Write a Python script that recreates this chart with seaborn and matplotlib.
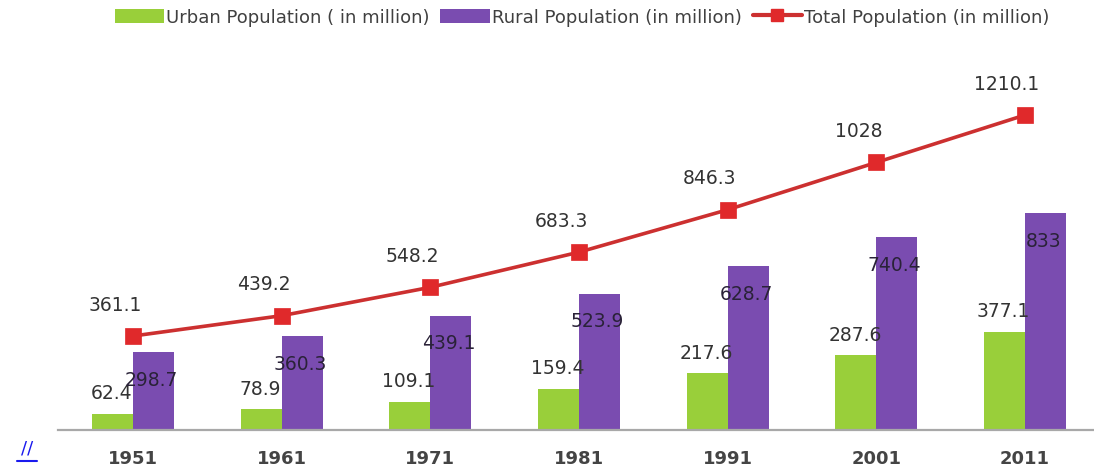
import matplotlib
matplotlib.use("Agg")
import matplotlib.pyplot as plt
import seaborn as sns
import pandas as pd
import numpy as np
from matplotlib.patches import Patch
from matplotlib.lines import Line2D

years = ["1951", "1961", "1971", "1981", "1991", "2001", "2011"]
urban = [62.4, 78.9, 109.1, 159.4, 217.6, 287.6, 377.1]
rural = [298.7, 360.3, 439.1, 523.9, 628.7, 740.4, 833]
total = [361.1, 439.2, 548.2, 683.3, 846.3, 1028, 1210.1]
total_labels = ["361.1", "439.2", "548.2", "683.3", "846.3", "1028", "1210.1"]
urban_labels = ["62.4", "78.9", "109.1", "159.4", "217.6", "287.6", "377.1"]
rural_labels = ["298.7", "360.3", "439.1", "523.9", "628.7", "740.4", "833"]
series_names = ["Urban Population ( in million)", "Rural Population (in million)",
                "Total Population (in million)"]

GREEN = "#99CF3A"
PURPLE = "#7A4CB0"
RED_LINE = "#CC3030"
RED_MARK = "#E0292B"
TXT = "#333333"

sns.set_theme(style="white")
plt.rcParams['font.family'] = ['DejaVu Sans']

fig = plt.figure(figsize=(10.94, 4.77), dpi=100)
ax = fig.add_axes([58 / 1094, 46 / 477, 1 - 58 / 1094, 364.4 / 477])

df = pd.DataFrame({
    "Year": years * 2,
    "Value": urban + rural,
    "Type": [series_names[0]] * len(years) + [series_names[1]] * len(years),
})
sns.barplot(data=df, x="Year", y="Value", hue="Type", order=years,
            hue_order=series_names[:2], palette=[GREEN, PURPLE],
            width=0.55, legend=False, ax=ax, saturation=1, edgecolor="none")

dft = pd.DataFrame({"Year": years, "Total": total})
sns.pointplot(data=dft, x="Year", y="Total", order=years, color=RED_LINE,
              markers="s", markersize=10, linewidth=2.6,
              markerfacecolor=RED_MARK, markeredgecolor=RED_MARK, ax=ax)

ax.set_xlim(-0.5045, 6.464)
ax.set_ylim(0, 1400)

# bar labels
urban_bars = ax.containers[0]
rural_bars = ax.containers[1]
for bar, lab in zip(urban_bars, urban_labels):
    cx = bar.get_x() + bar.get_width() / 2
    ax.annotate(lab, (cx, bar.get_height()), xytext=(-1, 21),
                textcoords="offset pixels", ha="center", va="center",
                fontsize=13.5, color=TXT)
for bar, lab in zip(rural_bars, rural_labels):
    cx = bar.get_x() + bar.get_width() / 2
    ax.annotate(lab, (cx, bar.get_height()), xytext=(-2, -27),
                textcoords="offset pixels", ha="center", va="center",
                fontsize=13.5, color="#2a2238")
for i, (v, lab) in enumerate(zip(total, total_labels)):
    ax.annotate(lab, (i, v), xytext=(-18, 32),
                textcoords="offset pixels", ha="center", va="center",
                fontsize=13.5, color=TXT)

sns.despine(ax=ax, left=True, top=True, right=True)
ax.spines["bottom"].set_color("#a8a8a8")
ax.spines["bottom"].set_linewidth(1.6)
ax.set_yticks([])
ax.set_xlabel("")
ax.set_ylabel("")
ax.tick_params(axis="x", length=0, pad=14)
for t in ax.get_xticklabels():
    t.set_fontsize(13)
    t.set_fontweight("semibold")
    t.set_color("#444444")

handles = [Patch(facecolor=GREEN, edgecolor="none"),
           Patch(facecolor=PURPLE, edgecolor="none"),
           Line2D([], [], color=RED_LINE, lw=3, marker="s", markersize=9,
                  markerfacecolor=RED_MARK, markeredgecolor=RED_MARK)]
leg = fig.legend(handles, series_names, loc="center", ncol=3,
                 bbox_to_anchor=(582 / 1094, 1 - 18 / 477), frameon=False,
                 fontsize=13, handlelength=2.75, handleheight=0.8,
                 handletextpad=0.1, columnspacing=0.6, borderaxespad=0)
for t in leg.get_texts():
    t.set_color("#404040")

fig.text(27 / 1094, 1 - 449 / 477, "//", color="#1a1aee", fontsize=13,
         ha="center", va="center")
fig.add_artist(Line2D([17 / 1094, 37 / 1094], [1 - 462 / 477] * 2,
                      transform=fig.transFigure, color="#1a1aee", lw=1.5))

fig.savefig("out.png", dpi=100)
